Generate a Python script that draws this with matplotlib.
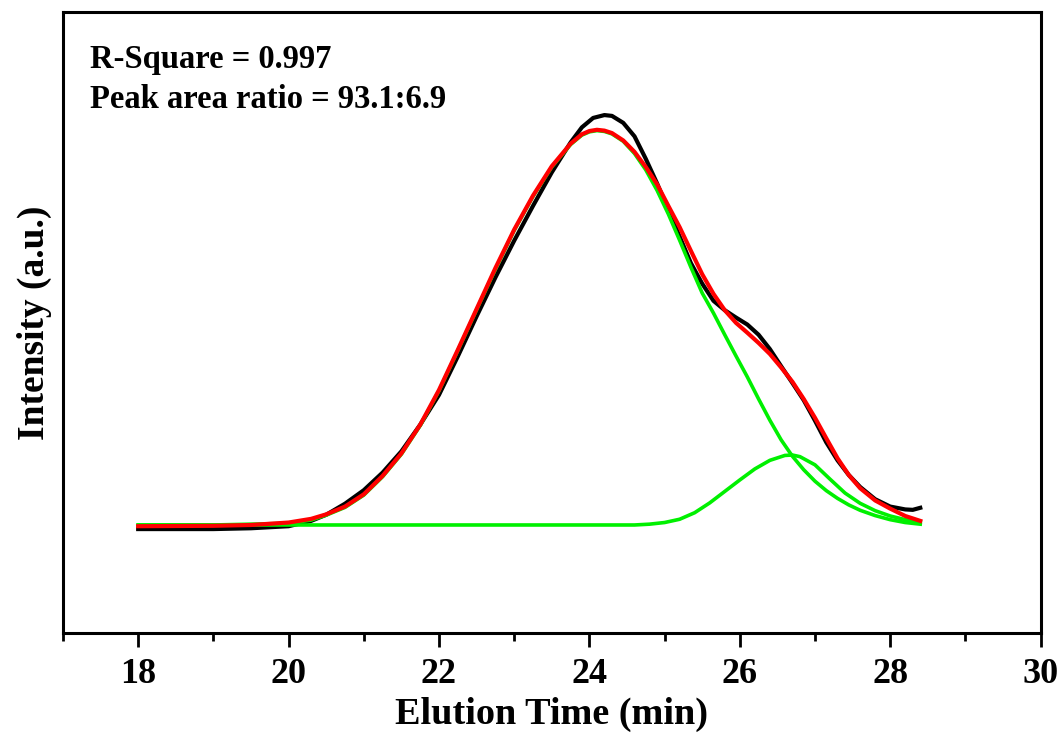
import matplotlib
matplotlib.use("Agg")
import matplotlib.pyplot as plt
from matplotlib.ticker import MultipleLocator

# ---- data ----
t_data = [18.0, 18.5, 19.0, 19.5, 20.0, 20.3, 20.5, 20.75, 21.0, 21.25, 21.5, 21.75,
          22.0, 22.25, 22.5, 22.75, 23.0, 23.25, 23.5, 23.75, 23.9, 24.05, 24.2, 24.3,
          24.45, 24.6, 24.75, 24.9, 25.05, 25.2, 25.35, 25.5, 25.65, 25.8, 25.95, 26.1,
          26.25, 26.4, 26.55, 26.7, 26.85, 27.0, 27.15, 27.3, 27.45, 27.6, 27.8, 28.0,
          28.2, 28.3, 28.4]
i_data = [-0.010, -0.010, -0.010, -0.008, -0.003, 0.010, 0.025, 0.052, 0.085, 0.128, 0.180, 0.245,
          0.318, 0.412, 0.510, 0.605, 0.695, 0.780, 0.862, 0.935, 0.972, 0.995, 1.002, 1.000,
          0.983, 0.950, 0.895, 0.835, 0.770, 0.705, 0.640, 0.590, 0.548, 0.525, 0.507, 0.490,
          0.465, 0.430, 0.388, 0.347, 0.305, 0.255, 0.202, 0.158, 0.122, 0.093, 0.063, 0.045,
          0.038, 0.037, 0.042]

t_fit = [18.0, 19.0, 19.5, 20.0, 20.3, 20.5, 20.75, 21.0, 21.25, 21.5, 21.75, 22.0,
         22.25, 22.5, 22.75, 23.0, 23.25, 23.5, 23.75, 23.9, 24.0, 24.1, 24.2, 24.3,
         24.45, 24.6, 24.75, 24.9, 25.05, 25.2, 25.35, 25.5, 25.65, 25.8, 25.95, 26.1,
         26.25, 26.4, 26.55, 26.7, 26.85, 27.0, 27.15, 27.3, 27.45, 27.6, 27.8, 28.0,
         28.2, 28.4]
i_fit = [-0.003, -0.002, 0.000, 0.006, 0.015, 0.026, 0.045, 0.075, 0.120, 0.175, 0.245, 0.330,
         0.428, 0.528, 0.628, 0.722, 0.805, 0.877, 0.932, 0.955, 0.963, 0.966, 0.964, 0.958,
         0.940, 0.912, 0.875, 0.833, 0.780, 0.728, 0.670, 0.613, 0.565, 0.525, 0.494, 0.470,
         0.445, 0.418, 0.385, 0.350, 0.308, 0.262, 0.212, 0.163, 0.122, 0.090, 0.060, 0.040,
         0.022, 0.010]

t_peak1 = [18.0, 19.0, 20.0, 20.3, 20.5, 20.75, 21.0, 21.25, 21.5, 21.75, 22.0, 22.25,
           22.5, 22.75, 23.0, 23.25, 23.5, 23.75, 23.9, 24.0, 24.1, 24.2, 24.3, 24.45,
           24.6, 24.75, 24.9, 25.05, 25.2, 25.35, 25.5, 25.65, 25.8, 25.95, 26.1, 26.25,
           26.4, 26.55, 26.7, 26.85, 27.0, 27.15, 27.3, 27.45, 27.6, 27.8, 28.0, 28.2, 28.4]
i_peak1 = [0.000, 0.000, 0.004, 0.012, 0.024, 0.043, 0.073, 0.118, 0.173, 0.243, 0.328, 0.426,
           0.526, 0.625, 0.720, 0.803, 0.875, 0.930, 0.953, 0.961, 0.964, 0.962, 0.956, 0.938,
           0.908, 0.868, 0.818, 0.760, 0.696, 0.630, 0.567, 0.518, 0.465, 0.413, 0.362, 0.308,
           0.256, 0.208, 0.168, 0.135, 0.107, 0.084, 0.065, 0.049, 0.036, 0.023, 0.013, 0.006, 0.002]

t_peak2 = [18.0, 24.6, 24.8, 25.0, 25.2, 25.4, 25.6, 25.8, 26.0, 26.2, 26.4, 26.6,
           26.7, 26.8, 27.0, 27.2, 27.4, 27.6, 27.8, 28.0, 28.2, 28.4]
i_peak2 = [0.000, 0.000, 0.002, 0.006, 0.014, 0.030, 0.054, 0.082, 0.110, 0.137, 0.158, 0.170,
           0.171, 0.167, 0.147, 0.112, 0.078, 0.053, 0.035, 0.022, 0.013, 0.007]

x_ticks = [18, 20, 22, 24, 26, 28, 30]
annotations = ["R-Square = 0.997", "Peak area ratio = 93.1:6.9"]

plt.rcParams['font.family'] = ['Liberation Serif', 'DejaVu Serif']
plt.rcParams['font.weight'] = 'bold'

fig = plt.figure(figsize=(10.64, 7.35), dpi=100)
ax = fig.add_axes([0.0592, 0.1388, 0.9188, 0.8449])

ax.plot(t_data, i_data, color='black', lw=3.0, zorder=2, solid_joinstyle='round')
ax.plot(t_peak1, i_peak1, color='#00f000', lw=2.6, zorder=3, solid_joinstyle='round')
ax.plot(t_peak2, i_peak2, color='#00f000', lw=2.6, zorder=3, solid_joinstyle='round')
ax.plot(t_fit, i_fit, color='#ff0000', lw=3.0, zorder=4, solid_joinstyle='round')

ax.set_xlim(17, 30)
ax.set_ylim(-0.264, 1.254)
ax.set_xticks(x_ticks)
ax.set_xticklabels([str(v) for v in x_ticks])
ax.xaxis.set_minor_locator(MultipleLocator(1))
ax.set_yticks([])

for s in ax.spines.values():
    s.set_linewidth(2.2)

ax.tick_params(axis='x', which='major', direction='out', length=10, width=2.0,
               labelsize=26, pad=8)
ax.tick_params(axis='x', which='minor', direction='out', length=6, width=2.0)

ax.set_xlabel("Elution Time (min)", fontsize=27.5, fontweight='bold', labelpad=4)
ax.set_ylabel("Intensity (a.u.)", fontsize=27, fontweight='bold', labelpad=8)

fig.text(90 / 1064, 1 - 68 / 735, annotations[0], fontsize=23.5, fontweight='bold',
         ha='left', va='baseline')
fig.text(90 / 1064, 1 - 108 / 735, annotations[1], fontsize=23.5, fontweight='bold',
         ha='left', va='baseline')

fig.savefig("out.png", dpi=100)
